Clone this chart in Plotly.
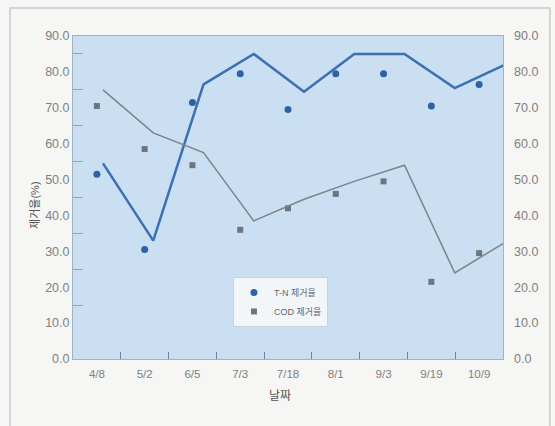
import plotly.graph_objects as go

# ---- data ----
dates = ["4/8", "5/2", "6/5", "7/3", "7/18", "8/1", "9/3", "9/19", "10/9"]
tn_points = [51.5, 30.5, 71.5, 79.5, 69.5, 79.5, 79.5, 70.5, 76.5]
cod_points = [70.5, 58.5, 54.0, 36.0, 42.0, 46.0, 49.5, 21.5, 29.5]
tn_line = [54.5, 33.0, 76.5, 85.0, 74.5, 85.0, 85.0, 75.5, 82.0]
cod_line = [75.0, 63.0, 57.5, 38.5, 44.5, 49.5, 54.0, 24.0, 32.5]
line_idx = list(range(len(dates)))
y_ticks = [0, 10, 20, 30, 40, 50, 60, 70, 80, 90]
minor_ticks = [15, 25, 35, 45, 55, 65, 75, 85]

BLUE = "#2c62a6"
GRAY = "#6f757c"
TXT = "#808080"
FONT = "Liberation Sans, Noto Sans CJK KR, sans-serif"

fig = go.Figure()

fig.add_trace(go.Scatter(
    x=dates, y=tn_points, mode="markers", name="T-N 제거율",
    marker=dict(symbol="circle", size=7, color=BLUE),
    xaxis="x", yaxis="y"))
fig.add_trace(go.Scatter(
    x=dates, y=cod_points, mode="markers", name="COD 제거율",
    marker=dict(symbol="square", size=6, color=GRAY),
    xaxis="x", yaxis="y"))
fig.add_trace(go.Scatter(
    x=line_idx, y=tn_line, mode="lines", showlegend=False,
    line=dict(color="#3b70b2", width=2.5),
    xaxis="x2", yaxis="y2"))
fig.add_trace(go.Scatter(
    x=line_idx, y=cod_line, mode="lines", showlegend=False,
    line=dict(color="#7d838a", width=1.5),
    xaxis="x2", yaxis="y2"))

fig.update_layout(
    width=555, height=426,
    margin=dict(l=73, r=52, t=36, b=67),
    paper_bgcolor="#f6f6f4",
    plot_bgcolor="#cadff1",
    font=dict(family=FONT, size=11, color=TXT),
    xaxis=dict(
        type="category", range=[-0.5, 8.5],
        tickson="boundaries", ticks="inside", ticklen=7, tickcolor="#6f86a0",
        showgrid=False, zeroline=False,
        showline=True, linecolor="#9fb3c8", linewidth=1, mirror=True,
        tickfont=dict(size=11.5, color=TXT), ticklabelstandoff=4),
    xaxis2=dict(
        overlaying="x", anchor="y2", visible=False,
        range=[-0.597, 7.96]),
    yaxis=dict(
        range=[0, 90], tickvals=y_ticks, tickformat=".1f",
        showgrid=False, zeroline=False, ticks="",
        showline=True, linecolor="#9fb3c8", linewidth=1, mirror=True,
        minor=dict(tickvals=minor_ticks, ticks="inside", ticklen=10,
                   tickcolor="#8fa6bd"),
        tickfont=dict(size=12.5, color=TXT)),
    yaxis2=dict(
        overlaying="y", anchor="x", side="right",
        range=[0, 90], tickvals=y_ticks, tickformat=".1f",
        showgrid=False, zeroline=False, ticks="",
        tickfont=dict(size=12.5, color=TXT), ticklabelstandoff=10),
    legend=dict(
        x=0.372, y=0.254, xanchor="left", yanchor="top",
        bgcolor="#f3f6f9", bordercolor="#c9d3dd", borderwidth=1,
        font=dict(size=9, color="#666"), itemwidth=30,
        tracegroupgap=2),
    showlegend=True,
)

# outer frame of the chart
fig.add_shape(type="rect", xref="paper", yref="paper",
              x0=-0.1465, x1=1.109, y0=-0.25, y1=1.0867,
              line=dict(color="#c9c9c9", width=1.5), fillcolor="rgba(0,0,0,0)",
              layer="below")

fig.add_annotation(text="제거율(%)", xref="paper", yref="paper",
                   x=-0.107, y=0.477, textangle=-90, showarrow=False,
                   font=dict(size=11, color="#555", family=FONT))
fig.add_annotation(text="날짜", xref="paper", yref="paper",
                   x=0.481, y=-0.142, showarrow=False,
                   font=dict(size=12, color="#555", family=FONT))

fig.write_html("out.html")
